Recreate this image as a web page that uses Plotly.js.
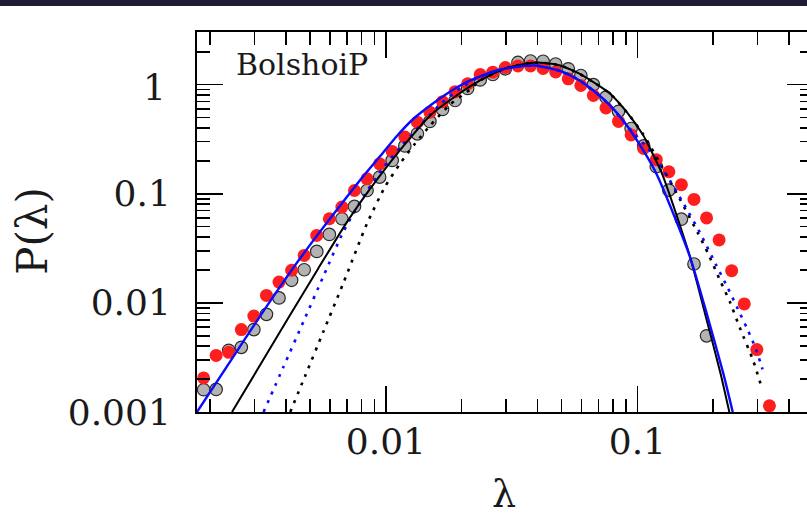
<!DOCTYPE html>
<html>
<head>
<meta charset="utf-8">
<script src="https://cdn.plot.ly/plotly-3.0.1.min.js"></script>
<style>
html,body{margin:0;padding:0;background:#fff;overflow:hidden;width:807px;height:525px;}
#band{position:absolute;left:0;top:0;width:807px;height:6px;background:#1d1b35;z-index:5;}
#plot{position:absolute;left:0;top:0;width:820px;height:525px;}
</style>
</head>
<body>
<div id="band"></div>
<div id="plot"></div>
<script>
// lambda bin centres
const lambdaBins = [0.001884, 0.002113, 0.002371, 0.002661, 0.002985, 0.003350, 0.003758, 0.004217, 0.004732, 0.005309,
  0.005957, 0.006683, 0.007499, 0.008414, 0.009441, 0.01059, 0.01189, 0.01334, 0.01496, 0.01679,
  0.01884, 0.02113, 0.02371, 0.02661, 0.02985, 0.03350, 0.03758, 0.04217, 0.04732, 0.05309,
  0.05957, 0.06683, 0.07499, 0.08414, 0.09441, 0.1059, 0.1189, 0.1334, 0.1496, 0.1679,
  0.1884, 0.2113, 0.2371, 0.2661, 0.2985, 0.3350];
// red points
const redP = [0.00205, 0.00330, 0.00352, 0.00569, 0.00757, 0.0117, 0.0155, 0.0199, 0.0272, 0.0415,
  0.0590, 0.0754, 0.107, 0.137, 0.188, 0.244, 0.331, 0.452, 0.559, 0.697,
  0.861, 1.017, 1.237, 1.299, 1.434, 1.480, 1.480, 1.404, 1.304, 1.130,
  0.981, 0.795, 0.611, 0.460, 0.346, 0.260, 0.205, 0.159, 0.121, 0.0887,
  0.0600, 0.0377, 0.0197, 0.00977, 0.00373, 0.00114];
// grey points
const greyP = [0.00160, 0.00161, 0.00367, 0.00391, 0.00569, 0.00785, 0.0111, 0.0161, 0.0201, 0.0296,
  0.0424, 0.0590, 0.0765, 0.107, 0.142, 0.202, 0.274, 0.354, 0.460, 0.592,
  0.715, 0.921, 1.102, 1.237, 1.395, 1.594, 1.645, 1.635, 1.544, 1.395,
  1.211, 0.998, 0.767, 0.569, 0.396, 0.274, 0.177, 0.108, 0.0585, 0.0227, 0.00499];

// blue solid curve
const blueSolidX = [0.001773, 0.002405, 0.003165, 0.004164, 0.005236, 0.006582, 0.008050, 0.009756, 0.01106, 0.01287,
  0.01500, 0.01747, 0.02034, 0.02370, 0.02762, 0.03215, 0.03922, 0.04930, 0.05757, 0.06685,
  0.07788, 0.09076, 0.1056, 0.1194, 0.1390, 0.1620, 0.1887, 0.2197, 0.2394];
const blueSolidY = [0.001, 0.002912, 0.007603, 0.01914, 0.03937, 0.07812, 0.1410, 0.2389, 0.3383, 0.4862,
  0.6437, 0.8237, 1.017, 1.186, 1.346, 1.443, 1.496, 1.332, 1.126, 0.8831,
  0.6437, 0.4221, 0.2490, 0.1502, 0.06560, 0.02627, 0.007963, 0.002247, 0.001];

// black solid curve
const blackSolidX = [0.002443, 0.003165, 0.004164, 0.005382, 0.006998, 0.008506, 0.01040, 0.01249, 0.01500, 0.01885,
  0.02370, 0.02979, 0.03745, 0.04297, 0.04930, 0.05742, 0.06685, 0.07788, 0.09076, 0.1056,
  0.1133, 0.1253, 0.1425, 0.1620, 0.1858, 0.2142, 0.2321];
const blackSolidY = [0.001, 0.002705, 0.007765, 0.02069, 0.05495, 0.1050, 0.1935, 0.3243, 0.5212, 0.7780,
  1.090, 1.404, 1.577, 1.577, 1.496, 1.291, 1.052, 0.8236, 0.5588, 0.3419,
  0.2490, 0.1525, 0.06560, 0.02627, 0.007963, 0.002247, 0.001];

// blue dotted curve
const blueDotX = [0.003262, 0.003907, 0.004705, 0.005649, 0.006783, 0.008147, 0.009783, 0.01140, 0.01369, 0.01643,
  0.01973, 0.02370, 0.02762, 0.03215, 0.03922, 0.04930, 0.05757, 0.06685, 0.07788, 0.09076,
  0.1127, 0.1324, 0.1533, 0.1775, 0.2055, 0.2293, 0.2513, 0.2729, 0.2963, 0.3145];
const blueDotY = [0.001, 0.002566, 0.006770, 0.01767, 0.04516, 0.09447, 0.1741, 0.2655, 0.4221, 0.6572,
  0.921, 1.186, 1.346, 1.443, 1.496, 1.332, 1.126, 0.8831, 0.6437, 0.4221,
  0.2439, 0.1410, 0.07980, 0.04375, 0.02228, 0.01358, 0.008720, 0.005842, 0.003751, 0.002460];

// black dotted curve
const blackDotX = [0.004164, 0.004779, 0.005633, 0.006765, 0.008406, 0.009936, 0.01140, 0.01307, 0.01500, 0.01801,
  0.02163, 0.02370, 0.02979, 0.03745, 0.04297, 0.04930, 0.05742, 0.06685, 0.07788, 0.09076,
  0.1056, 0.1231, 0.1478, 0.1743, 0.1910, 0.2132, 0.2336, 0.2559, 0.2884, 0.3111];
const blackDotY = [0.001, 0.002154, 0.005414, 0.01509, 0.05312, 0.1166, 0.1895, 0.2888, 0.4221, 0.6572,
  0.9018, 1.090, 1.404, 1.577, 1.577, 1.496, 1.291, 1.052, 0.8236, 0.5588,
  0.3491, 0.1895, 0.08866, 0.04329, 0.02839, 0.01607, 0.01011, 0.005842, 0.002974, 0.001718];

const xMajorVals = [0.01, 0.1];
const xMajorText = ['0.01', '0.1'];
const yMajorVals = [0.001, 0.01, 0.1, 1];
const yMajorText = ['0.001', '0.01', '0.1', ''];
const yTopLabel = '1';

function minorVals(d0, d1) {
  const v = [];
  for (let d = d0; d <= d1; d++) for (let m = 2; m <= 9; m++) v.push(m * Math.pow(10, d));
  return v;
}

const FONT = 'DejaVu Serif, serif';
const SM = 0.6;

const traces = [
  {x: lambdaBins.slice(0, greyP.length), y: greyP, type: 'scatter', mode: 'markers',
   marker: {size: 12.5, color: '#b3b3b3', line: {color: '#2a2a2a', width: 1.2}}, cliponaxis: true},
  {x: lambdaBins, y: redP, type: 'scatter', mode: 'markers',
   marker: {size: 13, color: '#ff1e1e', line: {width: 0}}, cliponaxis: true},
  {x: blackDotX, y: blackDotY, type: 'scatter', mode: 'lines',
   line: {color: '#000000', width: 2.6, dash: '3px,6.5px', shape: 'spline', smoothing: SM}},
  {x: blueDotX, y: blueDotY, type: 'scatter', mode: 'lines',
   line: {color: '#0a0aff', width: 2.6, dash: '3px,6.5px', shape: 'spline', smoothing: SM}},
  {x: blackSolidX, y: blackSolidY, type: 'scatter', mode: 'lines',
   line: {color: '#000000', width: 2, shape: 'spline', smoothing: SM}},
  {x: blueSolidX, y: blueSolidY, type: 'scatter', mode: 'lines',
   line: {color: '#0a0aff', width: 2.4, shape: 'spline', smoothing: SM}}
];

const axisCommon = {
  showgrid: false, zeroline: false, showline: true, linecolor: '#000', linewidth: 2,
  ticks: 'inside', ticklen: 26, tickwidth: 1.6, tickcolor: '#000', mirror: 'allticks',
  tickmode: 'array', automargin: false,
  tickfont: {family: FONT, size: 36, color: '#1a1a1a'}
};

const layout = {
  width: 820, height: 525,
  margin: {l: 196.7, r: 7, t: 31.5, b: 113.3, pad: 0},
  paper_bgcolor: '#ffffff', plot_bgcolor: '#ffffff',
  showlegend: false,
  xaxis: Object.assign({}, axisCommon, {
    type: 'log', range: [-2.7512, -0.3017],
    tickvals: xMajorVals, ticktext: xMajorText, ticklabelstandoff: -3,
    minor: {ticks: 'inside', ticklen: 13, tickwidth: 1.6, tickcolor: '#000', tickmode: 'array', tickvals: minorVals(-3, -1), showgrid: false}
  }),
  yaxis: Object.assign({}, axisCommon, {
    type: 'log', range: [-3, 0.4817],
    tickvals: yMajorVals, ticktext: yMajorText, ticklabelstandoff: 17,
    minor: {ticks: 'inside', ticklen: 13, tickwidth: 1.6, tickcolor: '#000', tickmode: 'array', tickvals: minorVals(-3, 0), showgrid: false}
  }),
  annotations: [
    {text: yTopLabel, xref: 'paper', yref: 'y', x: (168 - 196.7) / 616.3, y: Math.log10(yMajorVals[3]),
     xanchor: 'right', yanchor: 'middle', yshift: -3, showarrow: false, font: {family: FONT, size: 36, color: '#1a1a1a'}},
    {text: 'BolshoiP', xref: 'paper', yref: 'paper', x: (234 - 196.7) / 616.3, y: 1 - (64 - 31.5) / 380.2,
     xanchor: 'left', yanchor: 'middle', showarrow: false, font: {family: FONT, size: 30, color: '#1a1a1a'}},
    {text: 'λ', xref: 'paper', yref: 'paper', x: (504 - 196.7) / 616.3, y: -(494 - 411.7) / 380.2,
     xanchor: 'center', yanchor: 'middle', showarrow: false, font: {family: FONT, size: 38, color: '#1a1a1a'}},
    {text: 'P(λ)', xref: 'paper', yref: 'paper', x: (32 - 196.7) / 616.3, y: 1 - (230 - 31.5) / 380.2,
     xanchor: 'center', yanchor: 'middle', showarrow: false, textangle: -90, font: {family: FONT, size: 42, color: '#1a1a1a'}}
  ]
};

Plotly.newPlot('plot', traces, layout, {staticPlot: true, displayModeBar: false});
</script>
</body>
</html>
